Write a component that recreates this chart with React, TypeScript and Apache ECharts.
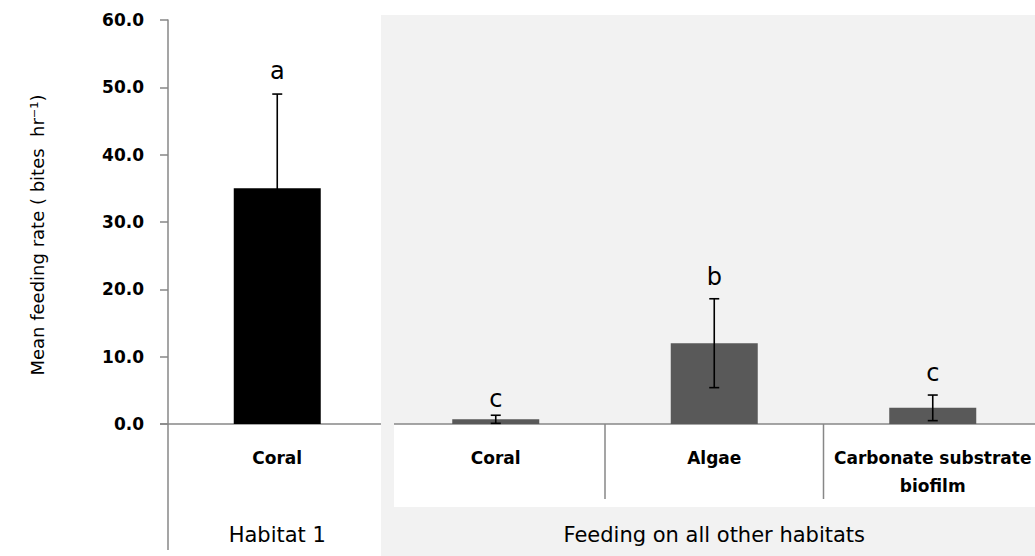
import React, { useEffect, useRef } from 'react';
import * as echarts from 'echarts';

// ---- data ----
const categories = ['Coral', 'Coral', 'Algae', 'Carbonate substrate\nbiofilm'];
const groupLabels = ['Habitat 1', 'Feeding on all other habitats'];
const meanRate = [35.0, 0.7, 12.0, 2.4];
const errorSE = [14.0, 0.6, 6.6, 1.9];
const sigLetters = ['a', 'c', 'b', 'c'];
const letterPos = [52.4, 3.7, 21.8, 7.6];
const barColors = ['#000000', '#595959', '#595959', '#595959'];
const yTicks = [0, 10, 20, 30, 40, 50, 60];
const yTitle = 'Mean feeding rate ( bites  hr\u207B\u00B9)';

const FONT = 'DejaVu Sans';
const AXIS_GRAY = '#878787';
const CHART_W = 1060;
const CHART_H = 556;

export default function App() {
  const ref = useRef<HTMLDivElement>(null);

  useEffect(() => {
    if (!ref.current) return;
    const chart = echarts.init(ref.current, null, { renderer: 'svg' });

    const option: any = {
      animation: false,
      backgroundColor: '#ffffff',
      grid: { left: 168, right: 18, top: 20, bottom: 132, containLabel: false },
      xAxis: {
        type: 'category',
        data: categories,
        boundaryGap: true,
        axisLine: { show: false },
        axisTick: { show: false },
        axisLabel: {
          interval: 0,
          margin: 20,
          color: '#000',
          fontFamily: FONT,
          fontWeight: 'bold',
          fontSize: 17,
          lineHeight: 28,
        },
        z: 5,
      },
      yAxis: {
        type: 'value',
        min: yTicks[0],
        max: yTicks[yTicks.length - 1],
        interval: yTicks[1] - yTicks[0],
        axisLine: { show: true, lineStyle: { color: AXIS_GRAY, width: 1.5 } },
        axisTick: { show: true, length: 8, lineStyle: { color: AXIS_GRAY, width: 1.5 } },
        splitLine: { show: false },
        axisLabel: {
          margin: 24,
          color: '#000',
          fontFamily: FONT,
          fontWeight: 'bold',
          fontSize: 17,
          formatter: (v: number) => v.toFixed(1),
        },
      },
      series: [
        {
          type: 'bar',
          barWidth: 87,
          z: 3,
          data: meanRate.map((v, i) => ({ value: v, itemStyle: { color: barColors[i] } })),
        },
        {
          type: 'custom',
          z: 4,
          data: meanRate.map((m, i) => [i, Math.max(0, m - errorSE[i]), m + errorSE[i]]),
          renderItem: (params: any, api: any) => {
            const i = api.value(0);
            const hiP = api.coord([i, api.value(2)]);
            const loP = api.coord([i, api.value(1)]);
            const hw = 5;
            const st = { stroke: '#000', lineWidth: 1.6 };
            return {
              type: 'group',
              children: [
                { type: 'line', shape: { x1: hiP[0], y1: hiP[1], x2: loP[0], y2: loP[1] }, style: st },
                { type: 'line', shape: { x1: hiP[0] - hw, y1: hiP[1], x2: hiP[0] + hw, y2: hiP[1] }, style: st },
                { type: 'line', shape: { x1: loP[0] - hw, y1: loP[1], x2: loP[0] + hw, y2: loP[1] }, style: st },
              ],
            };
          },
        },
        {
          type: 'custom',
          z: 4,
          data: letterPos.map((v, i) => [i, v]),
          renderItem: (params: any, api: any) => {
            const i = api.value(0);
            const p = api.coord([i, api.value(1)]);
            return {
              type: 'text',
              x: p[0],
              y: p[1],
              style: {
                text: sigLetters[params.dataIndex],
                fill: '#000',
                fontFamily: FONT,
                fontSize: 24,
                align: 'center',
                verticalAlign: 'middle',
              },
            };
          },
        },
      ],
    };

    chart.setOption(option);

    const px = (i: number, v: number) =>
      chart.convertToPixel({ xAxisIndex: 0, yAxisIndex: 0 } as any, [i, v]) as unknown as number[];
    const c0 = px(0, 0);
    const c1 = px(1, 0);
    const c2 = px(2, 0);
    const band = c1[0] - c0[0];
    const y0 = c0[1];
    const left = c0[0] - band / 2;
    const b1 = left + band;
    const b2 = left + 2 * band;
    const b3 = left + 3 * band;
    const grayX = b1 - 5.5;
    const whiteX = b1 + 7.5;
    const lineSt = { stroke: AXIS_GRAY, lineWidth: 1.5 };

    chart.setOption({
      graphic: [
        { type: 'rect', z: -1, shape: { x: grayX, y: 15, width: CHART_W, height: CHART_H }, style: { fill: '#f2f2f2' } },
        { type: 'rect', z: 0, shape: { x: whiteX, y: y0, width: CHART_W, height: 83 }, style: { fill: '#ffffff' } },
        { type: 'line', z: 1, shape: { x1: left - 8, y1: y0, x2: grayX, y2: y0 }, style: lineSt },
        { type: 'line', z: 1, shape: { x1: whiteX, y1: y0, x2: CHART_W, y2: y0 }, style: lineSt },
        { type: 'line', z: 1, shape: { x1: left, y1: y0, x2: left, y2: 550 }, style: lineSt },
        { type: 'line', z: 1, shape: { x1: b2, y1: y0, x2: b2, y2: y0 + 75 }, style: lineSt },
        { type: 'line', z: 1, shape: { x1: b3, y1: y0, x2: b3, y2: y0 + 75 }, style: lineSt },
        {
          type: 'text', z: 2, x: c0[0], y: 535,
          style: { text: groupLabels[0], fill: '#000', fontFamily: FONT, fontSize: 21, align: 'center', verticalAlign: 'middle' },
        },
        {
          type: 'text', z: 2, x: c2[0], y: 535,
          style: { text: groupLabels[1], fill: '#000', fontFamily: FONT, fontSize: 21, align: 'center', verticalAlign: 'middle' },
        },
        {
          type: 'text', z: 2, x: 37, y: 235, rotation: Math.PI / 2,
          style: { text: yTitle, fill: '#000', fontFamily: FONT, fontSize: 18, align: 'center', verticalAlign: 'middle' },
        },
      ],
    });

    return () => chart.dispose();
  }, []);

  return (
    <div style={{ position: 'absolute', left: 0, top: 0, width: 1035, height: CHART_H, overflow: 'hidden', background: '#fff' }}>
      <div ref={ref} style={{ width: CHART_W, height: CHART_H }} />
    </div>
  );
}
